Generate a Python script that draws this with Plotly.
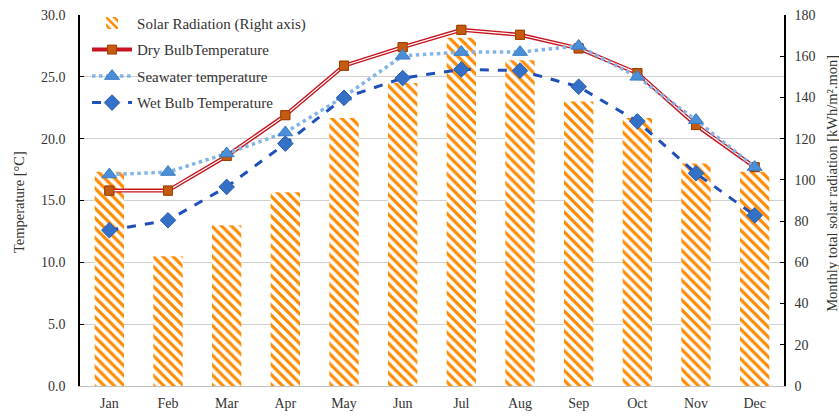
import plotly.graph_objects as go

months = ["Jan", "Feb", "Mar", "Apr", "May", "Jun", "Jul", "Aug", "Sep", "Oct", "Nov", "Dec"]
solar_radiation = [104, 63, 78, 94, 130, 147, 169, 158, 138, 130, 108, 104]
dry_bulb = [15.8, 15.8, 18.6, 21.9, 25.9, 27.4, 28.8, 28.4, 27.3, 25.3, 21.1, 17.7]
seawater = [17.1, 17.3, 18.8, 20.5, 23.4, 26.7, 27.0, 27.0, 27.5, 25.0, 21.5, 17.7]
wet_bulb = [12.6, 13.4, 16.1, 19.6, 23.3, 24.9, 25.6, 25.5, 24.2, 21.4, 17.2, 13.8]

temp_ticks = [0, 5, 10, 15, 20, 25, 30]
rad_ticks = [0, 20, 40, 60, 80, 100, 120, 140, 160, 180]

FONT = "Liberation Serif"
ORANGE = "#FF8A00"
TXT = "#333333"

fig = go.Figure()

fig.add_trace(go.Bar(
    x=months, y=solar_radiation, name="Solar Radiation (Right axis)",
    yaxis="y", width=0.5,
    marker=dict(color=ORANGE, line=dict(width=0),
                pattern=dict(shape="\\", fgcolor=ORANGE, bgcolor="white",
                             size=7, solidity=0.45, fillmode="replace")),
    legendgroup="a",
))

fig.add_trace(go.Scatter(
    x=months, y=dry_bulb, name="Dry BulbTemperature", yaxis="y2",
    mode="lines+markers",
    line=dict(color="#C8141E", width=4),
    marker=dict(symbol="square", size=9, color="#C55A11",
                line=dict(color="#A04000", width=1)),
    legendgroup="b",
))
fig.add_trace(go.Scatter(
    x=months, y=dry_bulb, yaxis="y2", mode="lines", showlegend=False,
    line=dict(color="white", width=1.2), hoverinfo="skip", legendgroup="b",
))
fig.add_trace(go.Scatter(
    x=months, y=dry_bulb, yaxis="y2", mode="markers", showlegend=False,
    marker=dict(symbol="square", size=9, color="#C55A11",
                line=dict(color="#A04000", width=1)),
    hoverinfo="skip", legendgroup="b",
))

fig.add_trace(go.Scatter(
    x=months, y=seawater, name="Seawater temperature", yaxis="y2",
    mode="lines+markers",
    line=dict(color="#84B4E6", width=3.5, dash="dot"),
    marker=dict(symbol="triangle-up", size=13, color="#4A8FD8",
                line=dict(color="#3A7CC4", width=1)),
    legendgroup="c",
))

fig.add_trace(go.Scatter(
    x=months, y=wet_bulb, name="Wet Bulb Temperature", yaxis="y2",
    mode="lines+markers",
    line=dict(color="#1F4FB8", width=3, dash="dash"),
    marker=dict(symbol="diamond", size=12, color="#3470C6",
                line=dict(color="#2A5DB0", width=1)),
    legendgroup="d",
))

fig.update_layout(
    width=839, height=416,
    margin=dict(l=80, r=55, t=15, b=30, autoexpand=False),
    paper_bgcolor="white", plot_bgcolor="white",
    font=dict(family=FONT, size=14, color=TXT),
    showlegend=True,
    legend=dict(x=0.01, y=1.022, xanchor="left", yanchor="top",
                bgcolor="rgba(0,0,0,0)", font=dict(family=FONT, size=15, color=TXT),
                traceorder="grouped", tracegroupgap=4, itemwidth=40),
    xaxis=dict(
        categoryorder="array", categoryarray=months, automargin=False,
        range=[-0.5, 11.5],
        showline=True, linecolor="#BFBFBF", linewidth=1,
        ticks="", tickfont=dict(family=FONT, size=14, color=TXT),
        ticklabelstandoff=4,
        showgrid=False, zeroline=False,
    ),
    yaxis=dict(
        side="right", range=[0, 180], tickvals=rad_ticks, automargin=False,
        ticktext=[str(v) for v in rad_ticks],
        showline=True, linecolor="black", linewidth=1.5,
        ticks="inside", ticklen=4, tickcolor="black",
        ticklabelstandoff=6,
        showgrid=False, zeroline=False,
        minor=dict(tickvals=[0, 30, 60, 90, 120, 150, 180], showgrid=True,
                   gridcolor="#D0D0D0", gridwidth=1, ticks=""),
        tickfont=dict(family=FONT, size=14, color=TXT),
    ),
    yaxis2=dict(
        overlaying="y", side="left", range=[0, 30], tickvals=temp_ticks, automargin=False,
        ticktext=[f"{v:.1f}" for v in temp_ticks],
        showline=True, linecolor="black", linewidth=1.5,
        ticks="inside", ticklen=4, tickcolor="black",
        ticklabelstandoff=10,
        showgrid=False, zeroline=False,
        tickfont=dict(family=FONT, size=14, color=TXT),
    ),
    annotations=[
        dict(text="Temperature [°C]", xref="paper", yref="paper",
             x=0, xshift=-61, y=0.496, xanchor="center", yanchor="middle",
             textangle=-90, showarrow=False,
             font=dict(family=FONT, size=14.5, color=TXT)),
        dict(text="Monthly total solar radiation [kWh/m².mon]", xref="paper", yref="paper",
             x=1, xshift=48, y=0.545, xanchor="center", yanchor="middle",
             textangle=-90, showarrow=False,
             font=dict(family=FONT, size=14.5, color=TXT)),
    ],
)

fig.write_html("out.html", config={"displayModeBar": False},
               post_script="document.body.style.margin='0';")
